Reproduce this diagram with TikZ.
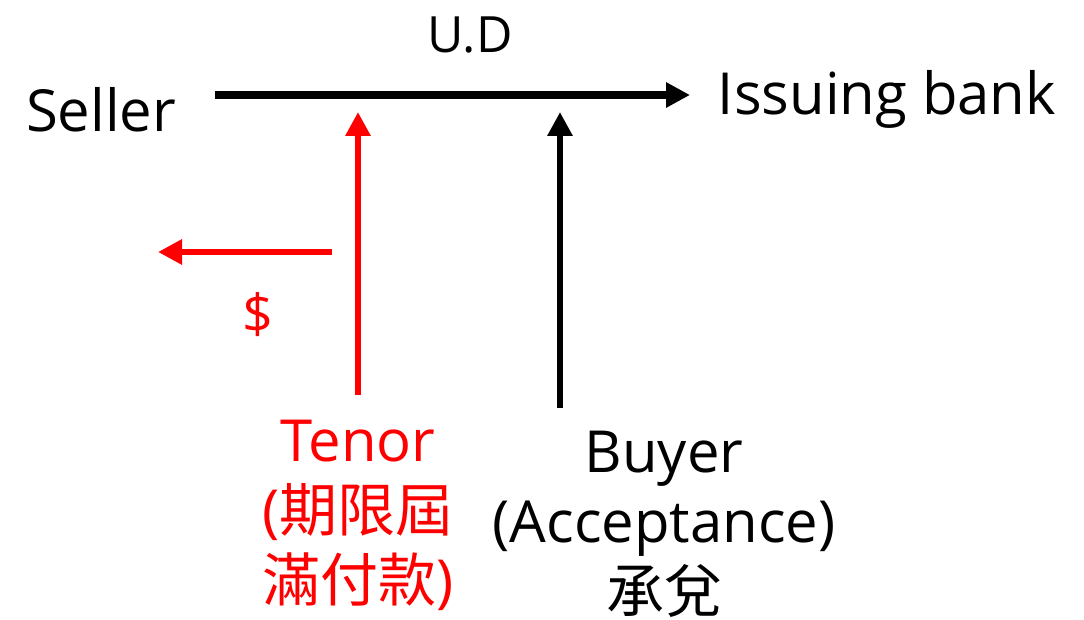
\documentclass[tikz,border=0pt]{standalone}
\usepackage{fontspec}
\setmainfont{Open Sans}
\newfontfamily\cjk{Noto Sans CJK TC}
\usetikzlibrary{arrows.meta,positioning}

\begin{document}
\begin{tikzpicture}[
    x=0.5pt, y=-0.5pt,
    party/.style={inner sep=0pt, font=\fontsize{29}{35}\selectfont, align=center},
    flow/.style={-{Triangle[length=12pt,width=12pt]}, line width=3pt},
    redflow/.style={flow, red}
]
    \useasboundingbox (0,0) rectangle (1084,620);

    \node[party] (seller) at (101,110) {Seller};
    \node[party] (bank) at (887,99) {Issuing bank};
    \node[party, font=\fontsize{25}{30}\selectfont] (ud) at (470,35) {U.D};
    \node[party, red, font=\fontsize{27}{30}\selectfont] (dollar) at (258,315) {\$};
    \node[party, red] (tenor) at (358,515) {Tenor\\({\cjk 期限屆}\\{\cjk 滿付款})};
    \node[party] (buyer) at (664,524) {Buyer\\(Acceptance)\\{\cjk 承兌}};

    % arrow ends
    \coordinate (udstart) at (215,95);
    \coordinate (udend) at (690,95);
    \coordinate (tenorhit) at (358,112);
    \coordinate (tenorfoot) at (358,395);
    \coordinate (buyerhit) at (560,112);
    \coordinate (buyerfoot) at (560,408);
    \coordinate (paystart) at (332,252);
    \coordinate (payend) at (158,252);

    \draw[flow, line width=4pt] (udstart) -- (udend);
    \draw[redflow] (tenorfoot) -- (tenorhit);
    \draw[flow] (buyerfoot) -- (buyerhit);
    \draw[redflow] (paystart) -- (payend);
\end{tikzpicture}
\end{document}
